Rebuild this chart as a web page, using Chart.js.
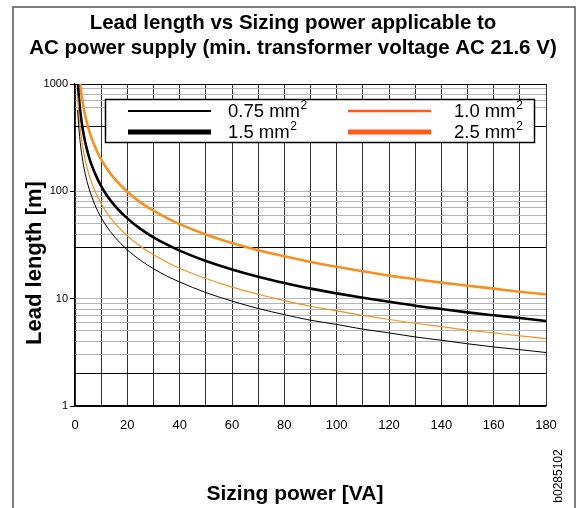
<!DOCTYPE html>
<html>
<head>
<meta charset="utf-8">
<script src="https://cdn.jsdelivr.net/npm/chart.js@4.4.1/dist/chart.umd.min.js"></script>
<style>
  html, body { margin: 0; padding: 0; background: #fff; }
  #wrap { width: 576px; height: 508px; position: relative; }
</style>
</head>
<body>
<div id="wrap"><canvas id="chart" width="576" height="508"></canvas></div>
<script>
// sizing power [VA]
const sizingPower = [1, 1.5, 2, 3, 4, 5, 6, 8, 10, 12, 15, 20, 25, 30, 35, 40, 50, 60, 70, 80, 90, 100, 110, 120, 130, 140, 150, 160, 170, 180];
// lead length [m]
const len075 = [570, 380, 285, 190, 142, 114, 95, 71, 57, 47.5, 38, 28.5, 22.8, 19, 16.3, 14.3, 11.4, 9.5, 8.1, 7.1, 6.3, 5.75, 5.2, 4.8, 4.4, 4.1, 3.8, 3.55, 3.35, 3.15];
const len10  = [765, 510, 383, 255, 191, 153, 128, 96, 77, 64, 51, 38.5, 30.8, 25.6, 22, 19.2, 15.4, 12.8, 11, 9.6, 8.5, 7.7, 7, 6.4, 5.9, 5.5, 5.1, 4.8, 4.5, 4.25];
const len15  = [1120, 745, 560, 373, 280, 224, 186, 140, 112, 93, 74.5, 56, 44.7, 37.3, 32, 28, 22.4, 18.7, 16, 14, 12.4, 11.2, 10.2, 9.35, 8.6, 8, 7.45, 7, 6.6, 6.2];
const len25  = [1980, 1320, 990, 660, 495, 396, 330, 248, 198, 165, 132, 99, 79, 66, 56.6, 49.5, 39.6, 33, 28.3, 24.8, 22, 19.8, 18, 16.4, 15.2, 14.1, 13.2, 12.4, 11.6, 11];

const yLabelTicks = [1, 10, 100, 1000];
const yGridDark = [1, 2, 30, 400, 1000];
const yGridLight = [3, 4, 5, 6, 7, 8, 9, 10, 40, 50, 60, 70, 80, 90, 100, 600, 700, 800, 900];
const xLabelStep = 20;

const ORANGE = '#f7901e';
const LEG_ORANGE = '#ff5b1c';
const SANS = '"Liberation Sans", Arial, sans-serif';

const pts = (ys) => sizingPower.map((x, i) => ({ x, y: ys[i] }));

Chart.defaults.font.family = '"Liberation Sans Narrow", "Liberation Sans", Arial, sans-serif';
Chart.defaults.color = '#000';

const decor = {
  id: 'decor',
  afterDraw(chart) {
    const c = chart.ctx;
    c.save();
    // outer frame
    c.strokeStyle = '#555';
    c.lineWidth = 1.5;
    c.strokeRect(13, 7, 562, 510);

    c.fillStyle = '#000';
    c.textAlign = 'center';
    c.textBaseline = 'middle';
    c.font = 'bold 20.5px ' + SANS;
    c.fillText('Lead length vs Sizing power applicable to', 293, 23);
    c.fillText('AC power supply (min. transformer voltage AC 21.6 V)', 293, 48);

    c.font = 'bold 21px ' + SANS;
    c.fillText('Sizing power [VA]', 295, 494);
    c.save();
    c.font = 'bold 22px ' + SANS;
    c.translate(35, 263);
    c.rotate(-Math.PI / 2);
    c.fillText('Lead length [m]', 0, 0);
    c.restore();

    c.save();
    c.font = '12px ' + SANS;
    c.translate(559, 476);
    c.rotate(-Math.PI / 2);
    c.fillText('b0285102', 0, 0);
    c.restore();

    // legend
    c.fillStyle = '#fff';
    c.fillRect(105.5, 99.5, 429, 43);
    c.strokeStyle = '#000';
    c.lineWidth = 1.5;
    c.strokeRect(105.5, 99.5, 429, 43);
    const rows = [
      [{ t: '0.75 mm', col: '#000', w: 2 }, { t: '1.0 mm', col: LEG_ORANGE, w: 2.5 }],
      [{ t: '1.5 mm', col: '#000', w: 5 }, { t: '2.5 mm', col: LEG_ORANGE, w: 5 }]
    ];
    const rowY = [111, 132];
    c.textAlign = 'left';
    rows.forEach((r, i) => {
      const y = rowY[i];
      [[128, 211, 228], [348, 431, 454]].forEach((p, j) => {
        c.strokeStyle = r[j].col;
        c.lineWidth = r[j].w;
        c.beginPath(); c.moveTo(p[0], y); c.lineTo(p[1], y); c.stroke();
        c.fillStyle = '#000';
        c.font = '18.5px ' + SANS;
        c.fillText(r[j].t, p[2], y + 1);
        const w = c.measureText(r[j].t).width;
        c.font = '12px ' + SANS;
        c.fillText('2', p[2] + w + 0.5, y - 5);
      });
    });
    c.restore();
  }
};

new Chart(document.getElementById('chart'), {
  type: 'line',
  data: {
    datasets: [
      { label: '0.75 mm²', data: pts(len075), borderColor: '#000', borderWidth: 1 },
      { label: '1.0 mm²', data: pts(len10), borderColor: ORANGE, borderWidth: 1.2 },
      { label: '1.5 mm²', data: pts(len15), borderColor: '#000', borderWidth: 2.6 },
      { label: '2.5 mm²', data: pts(len25), borderColor: ORANGE, borderWidth: 2.6 }
    ]
  },
  options: {
    responsive: false,
    animation: false,
    events: [],
    layout: { padding: { top: 84, right: 30, left: 0, bottom: 0 } },
    elements: { point: { radius: 0 }, line: { cubicInterpolationMode: 'monotone', fill: false } },
    plugins: { legend: { display: false }, tooltip: { enabled: false } },
    scales: {
      x: {
        type: 'linear', min: 0, max: 180,
        afterFit: (s) => { s.height = 102; },
        ticks: {
          stepSize: 10, padding: 12, font: { size: 13 },
          maxRotation: 0, minRotation: 0, autoSkip: false,
          callback: (v) => (v % xLabelStep === 0 ? v : '')
        },
        grid: { color: '#333', lineWidth: 1, drawTicks: false },
        border: { color: '#000', width: 1.2 }
      },
      y: {
        type: 'logarithmic', min: 1, max: 1000,
        afterFit: (s) => { s.width = 75; },
        afterBuildTicks: (s) => {
          s.ticks = yGridDark.concat(yGridLight).sort((a, b) => a - b).map((v) => ({ value: v }));
        },
        ticks: {
          padding: 2, font: { size: 11 }, autoSkip: false,
          callback: (v) => (yLabelTicks.includes(v) ? String(v) : '')
        },
        grid: {
          tickLength: 5,
          color: (ctx) => (yGridDark.includes(ctx.tick.value) ? '#000' : '#b4b4b4'),
          tickColor: (ctx) => (yLabelTicks.includes(ctx.tick.value) ? '#000' : 'rgba(0,0,0,0)'),
          lineWidth: 1
        },
        border: { color: '#000', width: 1.2 }
      }
    }
  },
  plugins: [decor]
});
</script>
</body>
</html>
